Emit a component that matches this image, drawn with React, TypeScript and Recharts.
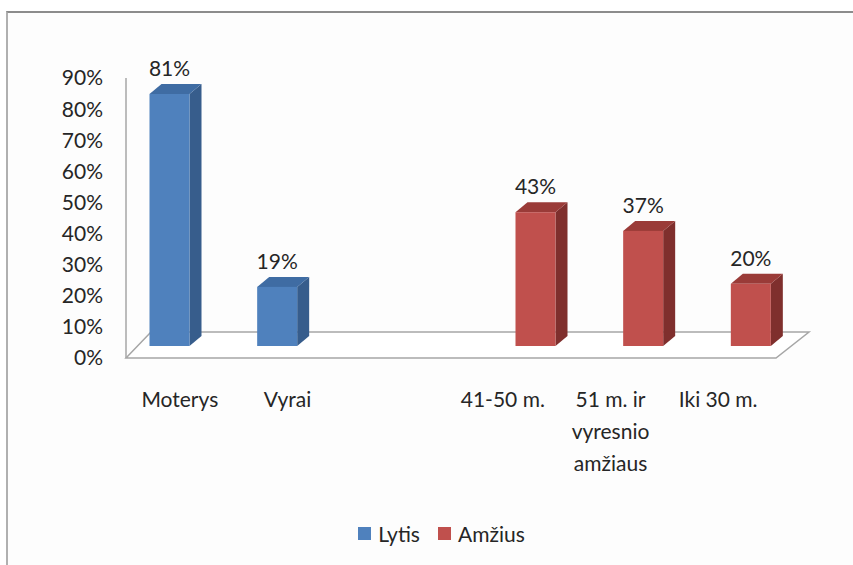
import React from 'react';
import { BarChart, Bar, XAxis, YAxis, Legend, LabelList, ReferenceLine } from 'recharts';

const categories = ['Moterys', 'Vyrai', '', '41-50 m.', '51 m. ir vyresnio amžiaus', 'Iki 30 m.'];
const lytisValues: (number | null)[] = [81, 19, null, null, null, null];
const amziusValues: (number | null)[] = [null, null, null, 43, 37, 20];
const yTicks = [0, 10, 20, 30, 40, 50, 60, 70, 80, 90];
const seriesNames = ['Lytis', 'Amžius'];

const data = categories.map((c, i) => ({ cat: c, lytis: lytisValues[i], amzius: amziusValues[i] }));

const FONT = 'Lato, "Open Sans", sans-serif';
const TEXT = '#262626';
const FS = 21;

// 3D offsets
const SX = 11.5;
const SY = -12;
const DX = 12;
const DY = -10;

const BLUE = { front: '#4F81BD', side: '#375D8C', top: '#3F6CA3' };
const RED = { front: '#C0504D', side: '#7F2F2D', top: '#9A3B38' };

const CHART_W = 853;
const CHART_H = 565;
const MARGIN = { top: 78, right: 81, bottom: 15, left: 0 };

const makeShape = (c: { front: string; side: string; top: string }) => (props: any) => {
  const { x, y, width, height } = props;
  if (height == null || !width || height <= 0) return <g />;
  const x1 = x + SX;
  const x2 = x1 + width;
  const yt = y + SY;
  const yb = yt + height;
  return (
    <g>
      <polygon points={`${x2},${yt} ${x2 + DX},${yt + DY} ${x2 + DX},${yb + DY} ${x2},${yb}`} fill={c.side} />
      <polygon points={`${x1},${yt} ${x1 + DX},${yt + DY} ${x2 + DX},${yt + DY} ${x2},${yt}`} fill={c.top} />
      <rect x={x1} y={yt} width={width} height={height} fill={c.front} />
    </g>
  );
};

const EmptyShape = () => <g />;

const renderLabel = (props: any) => {
  const { x, y, width, value } = props;
  if (value == null) return null;
  return (
    <text x={x + SX + width / 2} y={y + SY - 18} textAnchor="middle" fontFamily={FONT} fontSize={FS} fill={TEXT}>
      {`${value}%`}
    </text>
  );
};

const wrap = (s: string, max: number) => {
  const words = s.split(' ');
  const lines: string[] = [];
  let cur = '';
  words.forEach((w) => {
    const t = cur ? cur + ' ' + w : w;
    if (t.length > max && cur) {
      lines.push(cur);
      cur = w;
    } else cur = t;
  });
  if (cur) lines.push(cur);
  return lines;
};

const XTick = (props: any) => {
  const { x, y, payload } = props;
  const lines = wrap(String(payload.value || ''), 9);
  return (
    <text x={x} y={y + 41} textAnchor="middle" fontFamily={FONT} fontSize={FS} fill={TEXT}>
      {lines.map((l, i) => (
        <tspan key={i} x={x} dy={i === 0 ? 0 : 32}>
          {l}
        </tspan>
      ))}
    </text>
  );
};

const Floor = (p: any) => {
  const { x1, y1, x2 } = p;
  if (x1 == null || y1 == null || x2 == null) return <g />;
  const y = y1;
  return (
    <polygon
      points={`${x1},${y} ${x1 + 25},${y - 26} ${x2 + 37},${y - 26} ${x2 + 4},${y}`}
      fill="#ffffff"
      stroke="#a6a6a6"
      strokeWidth={1.5}
    />
  );
};

const LegendContent = (props: any) => {
  const items = [...(props.payload || [])].sort(
    (a: any, b: any) => seriesNames.indexOf(a.value) - seriesNames.indexOf(b.value)
  );
  return (
    <div
      style={{
        height: 34,
        width: 853,
        display: 'flex',
        alignItems: 'center',
        justifyContent: 'center',
        paddingLeft: 30,
        boxSizing: 'border-box',
        fontFamily: FONT,
        fontSize: FS,
        color: TEXT,
      }}
    >
      {items.map((it: any, i: number) => (
        <div key={i} style={{ display: 'flex', alignItems: 'center', marginRight: i === 0 ? 18 : 0 }}>
          <div style={{ width: 13, height: 13, background: it.color, marginRight: 7 }} />
          <span>{it.value}</span>
        </div>
      ))}
    </div>
  );
};

const EmptyLegend = () => <div style={{ height: 34, width: 853 }} />;

export default function App() {
  return (
    <div style={{ position: 'absolute', left: 0, top: 0, width: 853, height: 565, background: '#ffffff', overflow: 'hidden' }}>
      <div
        style={{
          position: 'absolute',
          left: 6,
          top: 11,
          width: 860,
          height: 570,
          borderTop: '2px solid #8c8c8c',
          borderLeft: '2px solid #b0b0b0',
          background: '#fdfdfd',
        }}
      />
      {/* back layer: floor */}
      <div style={{ position: 'absolute', left: 0, top: 0 }}>
        <BarChart width={CHART_W} height={CHART_H} data={data} margin={MARGIN} barSize={40} barGap={3}>
          <XAxis dataKey="cat" interval={0} tick={false} tickLine={false} axisLine={false} height={158} />
          <YAxis width={126} domain={[0, 90]} ticks={yTicks} tick={false} tickLine={false} axisLine={false} />
          <Legend verticalAlign="bottom" content={<EmptyLegend />} wrapperStyle={{ left: 0, width: 853 }} />
          <ReferenceLine y={0} shape={Floor} ifOverflow="visible" />
          <Bar dataKey="lytis" shape={EmptyShape} legendType="none" isAnimationActive={false} />
          <Bar dataKey="amzius" shape={EmptyShape} legendType="none" isAnimationActive={false} />
        </BarChart>
      </div>
      {/* front layer: axes, bars, labels, legend */}
      <div style={{ position: 'absolute', left: 0, top: 0 }}>
        <BarChart width={CHART_W} height={CHART_H} data={data} margin={MARGIN} barSize={40} barGap={3}>
          <XAxis dataKey="cat" interval={0} tickLine={false} axisLine={false} height={158} tick={<XTick />} />
          <YAxis
            width={126}
            domain={[0, 90]}
            ticks={yTicks}
            tickLine={false}
            tickMargin={17}
            axisLine={{ stroke: '#a6a6a6', strokeWidth: 1.5 }}
            tickFormatter={(v: number) => `${v}%`}
            tick={{ fontFamily: FONT, fontSize: FS, fill: TEXT }}
          />
          <Legend verticalAlign="bottom" content={<LegendContent />} wrapperStyle={{ left: 0, width: 853 }} />
          <Bar dataKey="lytis" name={seriesNames[0]} fill={BLUE.front} shape={makeShape(BLUE)} isAnimationActive={false}>
            <LabelList dataKey="lytis" content={renderLabel} />
          </Bar>
          <Bar dataKey="amzius" name={seriesNames[1]} fill={RED.front} shape={makeShape(RED)} isAnimationActive={false}>
            <LabelList dataKey="amzius" content={renderLabel} />
          </Bar>
        </BarChart>
      </div>
    </div>
  );
}
